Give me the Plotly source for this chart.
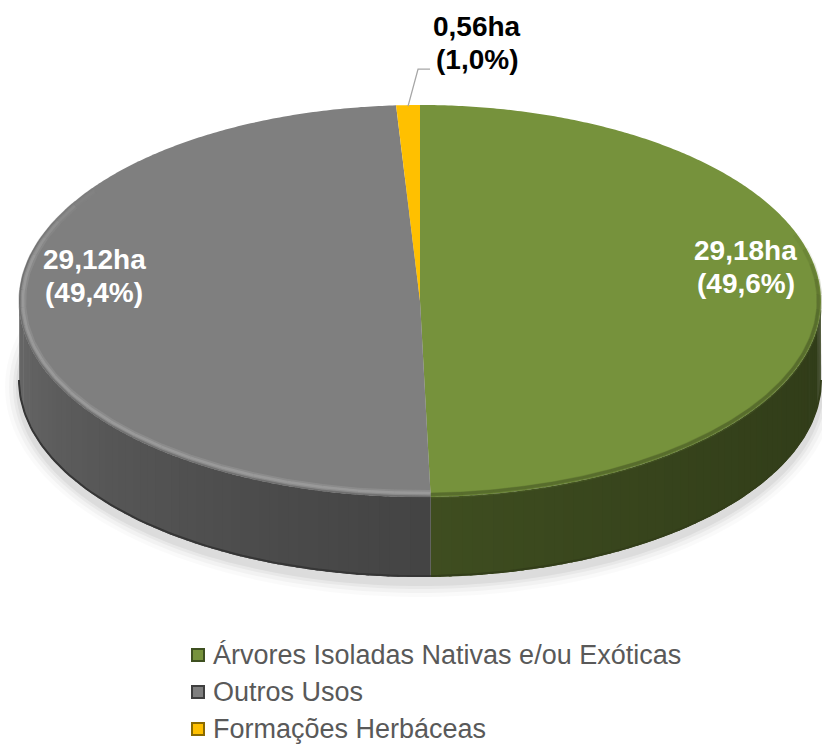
import numpy as np
import plotly.graph_objects as go

# ---- data ----
categories = ["Árvores Isoladas Nativas e/ou Exóticas", "Outros Usos", "Formações Herbáceas"]
areas_ha = [29.18, 29.12, 0.56]
percents = [49.6, 49.4, 1.0]

# ---- styles ----
top_colors = [(118, 146, 60), (127, 127, 127), (255, 192, 0)]
marker_edge = ["#3E5020", "#3F3F3F", "#8A6A00"]
label_colors = ["#FFFFFF", "#FFFFFF", "#000000"]
FONT = "Liberation Sans, Arial, sans-serif"

W, H = 822, 744
CX, CY, RX, RY, DEPTH = 420, 301, 401, 196, 80


def pt(theta_deg, rx=RX, ry=RY, dy=0.0):
    t = np.radians(theta_deg)
    return CX + rx * np.sin(t), CY - ry * np.cos(t) + dy


def rgb(c, k=1.0, a=None):
    r, g, b = [int(max(0, min(255, round(v * k)))) for v in c]
    if a is None:
        return f"rgb({r},{g},{b})"
    return f"rgba({r},{g},{b},{a:.3f})"


def side_k(theta):
    s = (theta - 90.0) / 180.0
    return 0.41 + 0.08 * s + 0.34 * s * s


total = sum(areas_ha)
bounds = np.concatenate([[0.0], np.cumsum(areas_ha) / total * 360.0])

fig = go.Figure()

# soft shadow under the disc
for grow, alpha in [(14, 0.02), (10, 0.03), (6, 0.04), (3, 0.05)]:
    th = np.linspace(0, 360, 241)
    xs, ys = pt(th, RX + grow, RY + grow, DEPTH + 6)
    fig.add_trace(go.Scatter(x=xs, y=ys, fill="toself", mode="none",
                             fillcolor=f"rgba(0,0,0,{alpha})", hoverinfo="skip", showlegend=False))

# side walls (front half only), drawn as shaded strips
for i in range(len(areas_ha)):
    a0, a1 = max(bounds[i], 90.0), min(bounds[i + 1], 270.0)
    if a1 <= a0:
        continue
    n = max(2, int(np.ceil((a1 - a0) / 1.5)))
    edges = np.linspace(a0, a1, n + 1)
    for j in range(n):
        t = np.linspace(edges[j], edges[j + 1] + (0.4 if j < n - 1 else 0), 4)
        xt, yt = pt(t)
        xb, yb = pt(t[::-1], dy=DEPTH)
        mid = 0.5 * (edges[j] + edges[j + 1])
        fig.add_trace(go.Scatter(x=np.concatenate([xt, xb]), y=np.concatenate([yt, yb]),
                                 fill="toself", mode="none", fillcolor=rgb(top_colors[i], side_k(mid)),
                                 hoverinfo="skip", showlegend=False))
    # darker bottom rim
    t = np.linspace(a0, a1, 80)
    xb, yb = pt(t, dy=DEPTH - 1)
    fig.add_trace(go.Scatter(x=xb, y=yb, mode="lines",
                             line=dict(color=rgb(top_colors[i], side_k(180) * 0.8), width=2),
                             hoverinfo="skip", showlegend=False))

# top face wedges
for i in range(len(areas_ha)):
    t = np.linspace(bounds[i], bounds[i + 1], max(3, int((bounds[i + 1] - bounds[i]) * 2)))
    xs, ys = pt(t)
    xs = np.concatenate([[CX], xs, [CX]])
    ys = np.concatenate([[CY], ys, [CY]])
    fig.add_trace(go.Scatter(x=xs, y=ys, fill="toself", mode="none",
                             fillcolor=rgb(top_colors[i]), hoverinfo="skip", showlegend=False))

# bevel on front edge of top face (faded at both ends)
bevel = {0: [(1.5, 0.7, 0.35, 6), (2.5, 0.6, 0.5, 3)],
         1: [(4, 1.22, 0.45, 6), (4, 1.28, 0.6, 2.5), (0.5, 0.75, 0.5, 2)]}
for i, layers in bevel.items():
    a0, a1 = max(bounds[i], 70.0), min(bounds[i + 1], 305.0)
    if a1 <= a0:
        continue
    nseg = 24
    segs = np.linspace(a0, a1, nseg + 1)
    for s in range(nseg):
        mid = 0.5 * (segs[s] + segs[s + 1])
        fade = min(1.0, (mid - 70.0) / 25.0, (305.0 - mid) / 25.0)
        if bounds[i] > 70.0:
            fade = min(fade, 1.0) if mid > bounds[i] else 0
        fade = max(0.0, fade)
        t = np.linspace(segs[s], segs[s + 1], 10)
        for inset, k, a, w in layers:
            xs, ys = pt(t, RX - inset, RY - inset)
            fig.add_trace(go.Scatter(x=xs, y=ys, mode="lines",
                                     line=dict(color=rgb(top_colors[i], k, a * fade), width=w),
                                     hoverinfo="skip", showlegend=False))


def fmt(v, d):
    return f"{v:.{d}f}".replace(".", ",")


annotations = []
LINE_GAP = 33
for i in range(len(areas_ha)):
    mid = 0.5 * (bounds[i] + bounds[i + 1])
    lines = [f"<b>{fmt(areas_ha[i], 2)}ha</b>", f"<b>({fmt(percents[i], 1)}%)</b>"]
    if percents[i] > 5:
        lx, ly = pt(mid, 0.813 * RX, 0.813 * RY, -32)
    else:
        sx, sy = pt(mid, RX - 1, RY - 1)
        ex, ey = sx + 10, sy - 37
        fig.add_trace(go.Scatter(x=[sx, ex, ex + 12], y=[sy, ey, ey], mode="lines",
                                 line=dict(color="#A6A6A6", width=1.3),
                                 hoverinfo="skip", showlegend=False))
        lx, ly = ex + 59, ey - 26
    for k, txt in enumerate(lines):
        annotations.append(dict(x=lx, y=ly + (k - 0.5) * LINE_GAP, xref="x", yref="y", text=txt,
                                showarrow=False,
                                font=dict(family=FONT, size=28, color=label_colors[i]),
                                xanchor="center", yanchor="middle"))

# legend (markers + text)
legend_rows_y = [655, 692, 729]
for i, name in enumerate(categories):
    fig.add_trace(go.Scatter(x=[198], y=[legend_rows_y[i]], mode="markers",
                             marker=dict(symbol="square", size=12, color=rgb(top_colors[i]),
                                         line=dict(color=marker_edge[i], width=2)),
                             hoverinfo="skip", showlegend=False))
    annotations.append(dict(x=211, y=legend_rows_y[i], xref="x", yref="y", text=name, showarrow=False,
                            font=dict(family=FONT, size=27, color="#595959"),
                            xanchor="left", yanchor="middle"))

fig.update_layout(
    width=W, height=H,
    margin=dict(l=0, r=0, t=0, b=0),
    paper_bgcolor="white", plot_bgcolor="white",
    xaxis=dict(range=[0, W], visible=False, fixedrange=True),
    yaxis=dict(range=[H, 0], visible=False, fixedrange=True),
    annotations=annotations,
    showlegend=False,
)

fig.write_html("out.html")
